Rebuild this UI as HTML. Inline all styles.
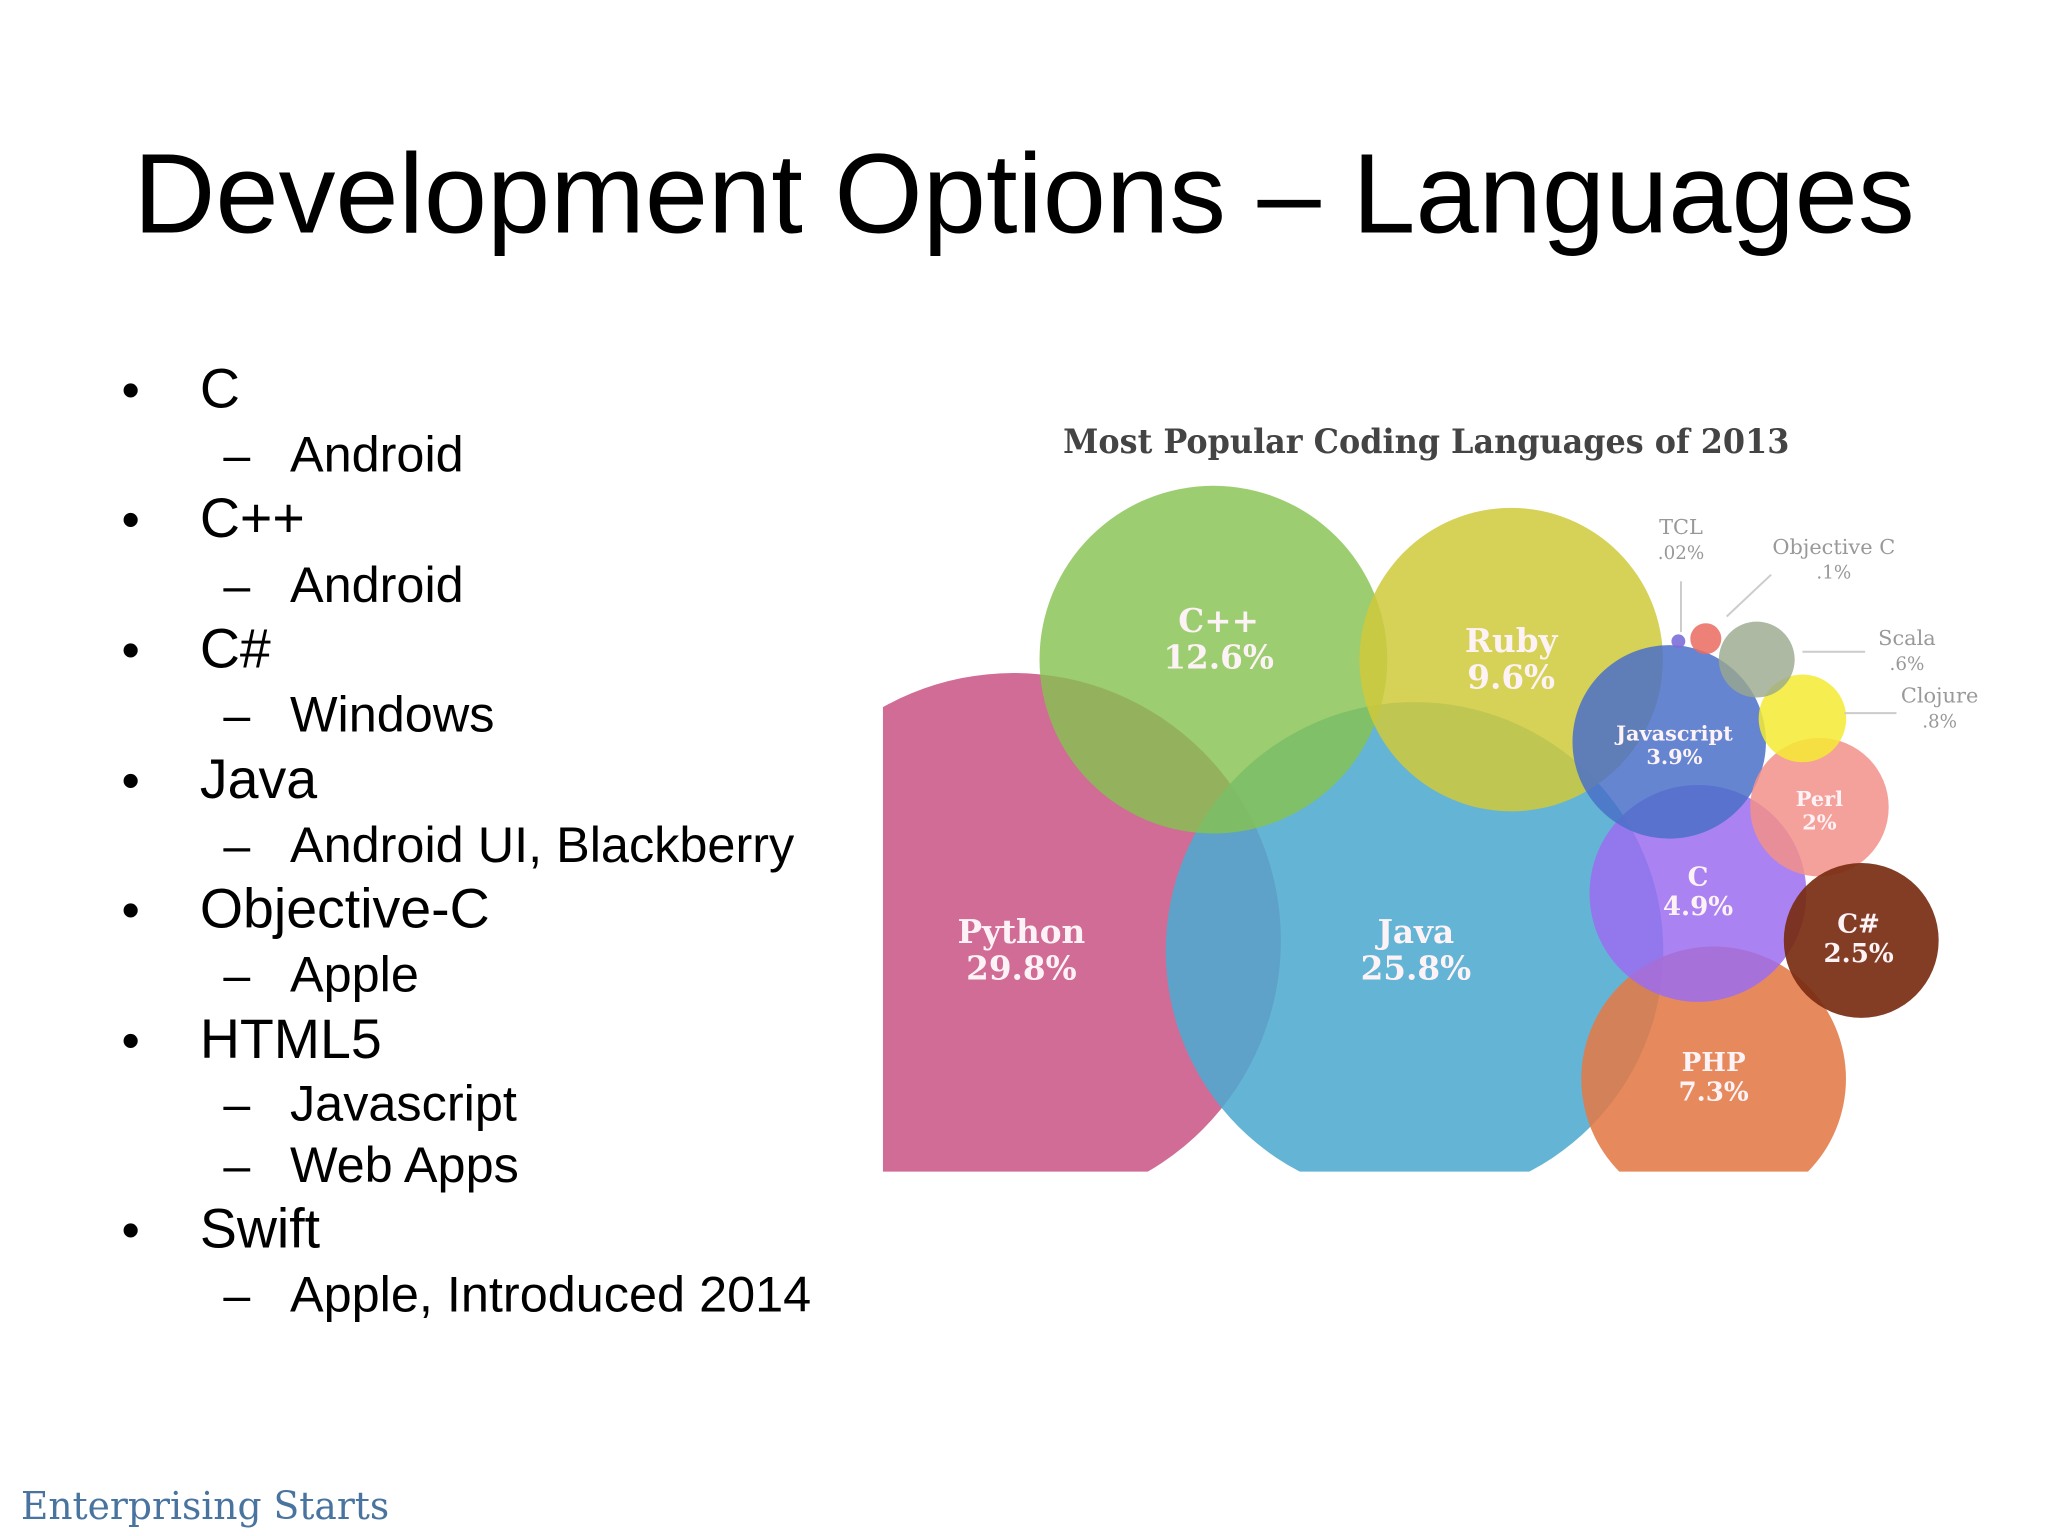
<!DOCTYPE html>
<html><head><meta charset="utf-8">
<style>
html,body{margin:0;padding:0;background:#fff;}
svg{display:block;}
</style></head>
<body>
<svg id="slide" width="2048" height="1536" viewBox="0 0 1568 1176" xmlns="http://www.w3.org/2000/svg">
  <rect x="0" y="0" width="1568" height="1176" fill="#fff"/>
  <text x="784" y="178" text-anchor="middle" font-family="Liberation Sans, sans-serif" font-size="87" fill="#000">Development Options – Languages</text>
  <g id="bullets" font-family="Liberation Sans, sans-serif" fill="#000"></g>
  <text x="1092" y="347" text-anchor="middle" font-family="DejaVu Serif, Liberation Serif, serif" font-size="26" font-weight="bold" fill="#444" textLength="556" lengthAdjust="spacingAndGlyphs">Most Popular Coding Languages of 2013</text>
  <defs><clipPath id="clipChart"><rect x="676" y="360" width="892" height="537"/></clipPath></defs>
  <g id="bubbles" clip-path="url(#clipChart)"></g>
  <g id="labels" font-family="DejaVu Serif, Liberation Serif, serif"></g>
  <text x="16" y="1163" font-family="DejaVu Serif, Liberation Serif, serif" font-size="29" fill="#4a74a0" textLength="282" lengthAdjust="spacingAndGlyphs">Enterprising Starts</text>
</svg>
<script>
const languages = ["Python","Java","C++","Ruby","PHP","C","Javascript","Perl","C#","Clojure","Scala","Objective C","TCL"];
const shares = [29.8,25.8,12.6,9.6,7.3,4.9,3.9,2,2.5,0.8,0.6,0.1,0.02];
const shareLabels = ["29.8%","25.8%","12.6%","9.6%","7.3%","4.9%","3.9%","2%","2.5%",".8%",".6%",".1%",".02%"];
const colors = ["#cc5f8c","#4eaad0","#86c250","#cfc93a","#e27a48","#9b6cf0","#4a70c8","#f3908a","#7a2c12","#f5ea32","#9aa88c","#ea6b60","#7b6fd8"];
const layoutCenters = [[776,720],[1083,728],[929,505],[1157,505],[1312,826],[1300,684],[1278,568],[1393,618],[1425,720],[1380,550],[1345,505],[1306,489],[1285,491]];
const opac = [0.92,0.88,0.82,0.85,0.88,0.85,0.85,0.85,0.92,0.85,0.8,0.85,0.9];
const rScale = v => 37.5*Math.sqrt(v);
const NS="http://www.w3.org/2000/svg";
const g=document.getElementById('bubbles');
languages.forEach((n,i)=>{
  const c=document.createElementNS(NS,'circle');
  c.setAttribute('cx',layoutCenters[i][0]);c.setAttribute('cy',layoutCenters[i][1]);
  c.setAttribute('r',rScale(shares[i]));c.setAttribute('fill',colors[i]);c.setAttribute('fill-opacity',opac[i]);
  
  
  g.appendChild(c);
});
const lg=document.getElementById('labels');
function txt(x,y,s,size,fill,name,bold){
  const t=document.createElementNS(NS,'text');
  t.setAttribute('x',x);t.setAttribute('y',y);t.setAttribute('font-size',size);t.setAttribute('fill',fill);
  t.setAttribute('text-anchor','middle');if(bold)t.setAttribute('font-weight','bold');t.textContent=s;
  
  
  lg.appendChild(t);return t;
}
const inner=[0,1,2,3,4,5,6,7,8];
const sizes=[25,25,25,25,20,20,16,16,20];
const labelPos=[[782,722],[1084,722],[933,484],[1157,499],[1312,820],[1300,678],[1282,567],[1393,617],[1423,714]];
inner.forEach((i,k)=>{
  const s=sizes[k];
  txt(labelPos[k][0],labelPos[k][1],languages[i],s,'#fdf3f6','bubble-label-name',true);
  txt(labelPos[k][0],labelPos[k][1]+s*1.12,shareLabels[i],s,'#fdf3f6','bubble-label-value',true);
});
const outer=[[12,1287,409],[11,1404,424],[10,1460,494],[9,1485,538]];
outer.forEach(([i,x,y])=>{
  txt(x,y,languages[i],16,'#999','outer-label-name',false);
  txt(x,y+19,shareLabels[i],14,'#999','outer-label-value',false);
});
[[1287,445,1287,484],[1356,440,1322,472],[1428,499,1380,499],[1452,546,1412,546]].forEach(l=>{
  const ln=document.createElementNS(NS,'line');
  ln.setAttribute('x1',l[0]);ln.setAttribute('y1',l[1]);ln.setAttribute('x2',l[2]);ln.setAttribute('y2',l[3]);
  ln.setAttribute('stroke','#ccc');ln.setAttribute('stroke-width','1.5');
  
  
  lg.appendChild(ln);
});
const items=[[0,"C",312],[1,"Android",361],[0,"C++",411],[1,"Android",461],[0,"C#",511],[1,"Windows",560],[0,"Java",611],[1,"Android UI, Blackberry",660],[0,"Objective-C",710],[1,"Apple",759],[0,"HTML5",810],[1,"Javascript",858],[1,"Web Apps",905],[0,"Swift",955],[1,"Apple, Introduced 2014",1004]];
const bg=document.getElementById('bullets');
items.forEach(([lvl,s,y])=>{
  const m=document.createElementNS(NS,'text');
  m.setAttribute('x',lvl?171:93);m.setAttribute('y',y);m.setAttribute('font-size',lvl?37:40);
  m.textContent=lvl?'–':'•';
  
  
  bg.appendChild(m);
  const t=document.createElementNS(NS,'text');
  t.setAttribute('x',lvl?222:153);t.setAttribute('y',y);t.setAttribute('font-size',lvl?38.6:42.5);
  t.textContent=s;
  
  
  bg.appendChild(t);
});
</script>
</body></html>
